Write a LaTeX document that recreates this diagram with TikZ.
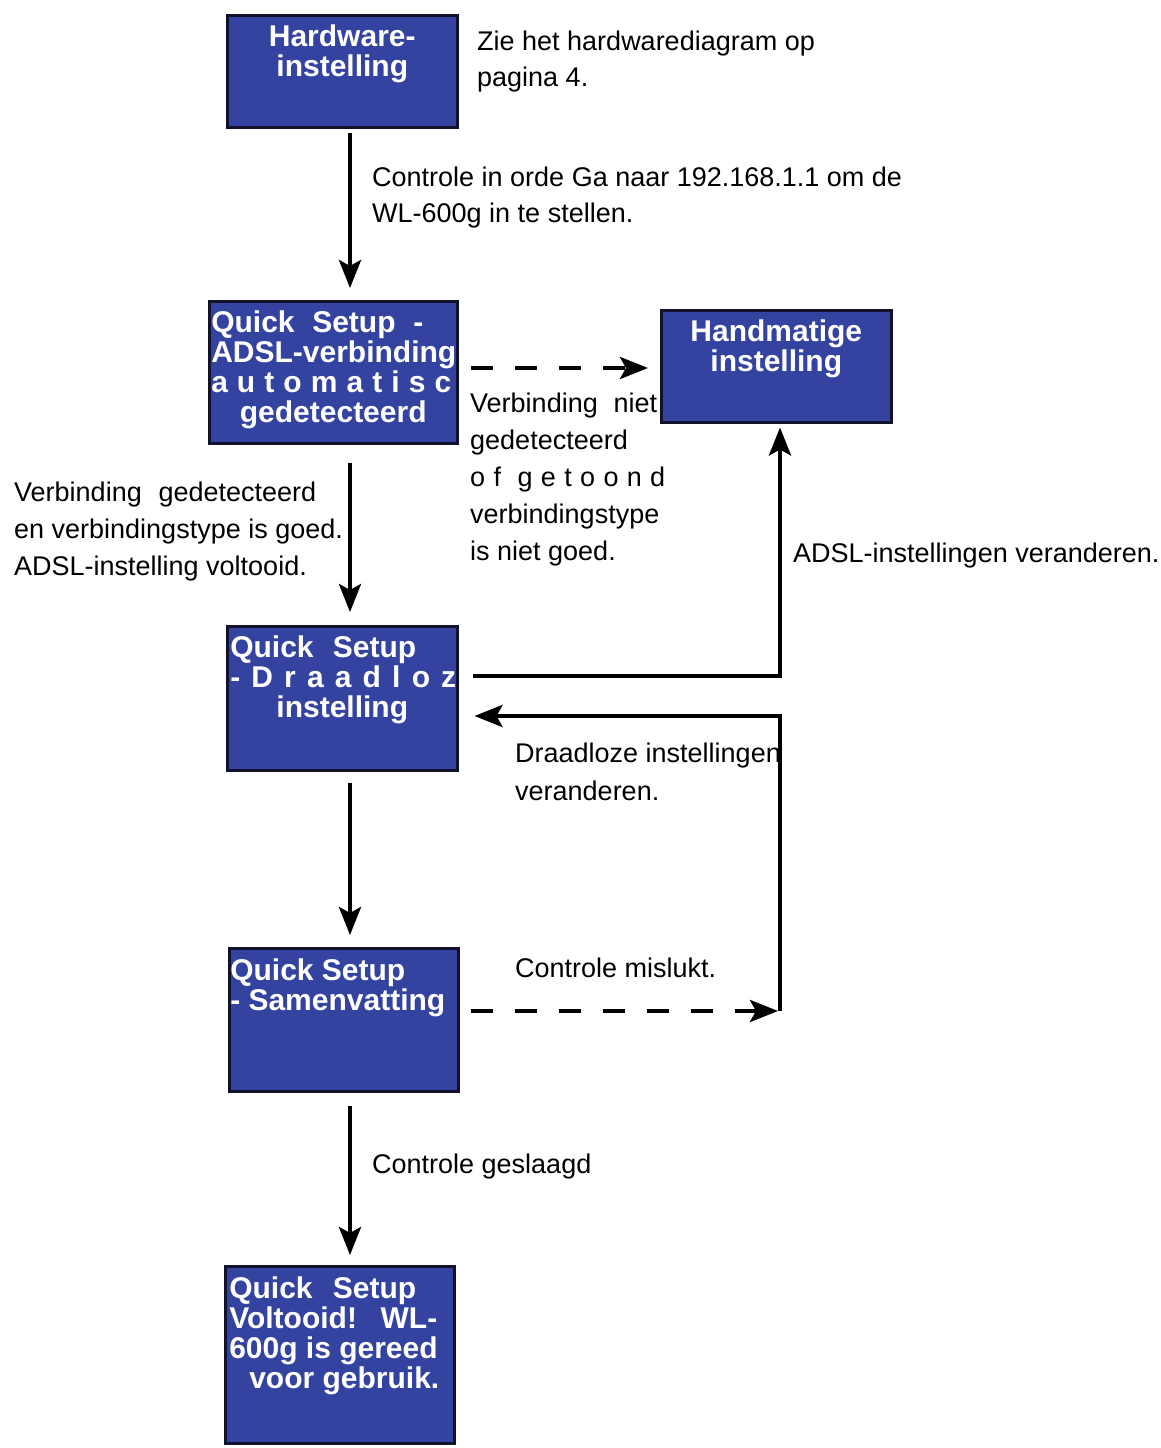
\documentclass[tikz,border=0pt]{standalone}
\usepackage{fontspec}
\setmainfont{Liberation Sans}
\usetikzlibrary{arrows.meta}
\definecolor{SetupBlue}{RGB}{52,67,160}
\definecolor{SetupEdge}{RGB}{18,18,45}

\newcommand{\vaktekst}[3]{\parbox[t][#2][t]{#1}{\vspace*{10pt}\centering #3}}
\newcommand{\links}[1]{\makebox[\linewidth][l]{#1}}
\newcommand{\regels}[1]{\parbox[t]{560pt}{#1}}

\begin{document}
\begin{tikzpicture}[x=1pt, y=-1pt,
  vak/.style={draw=SetupEdge, line width=2.5pt, fill=SetupBlue, text=white, inner sep=0pt, anchor=north west, font=\bfseries\fontsize{30}{30}\selectfont},
  uitleg/.style={inner sep=0pt, anchor=base west, font=\fontsize{27}{37}\selectfont},
  pijl/.style={-{Stealth[length=28pt, width=22pt, inset=6pt]}, line width=4pt},
  streep/.style={pijl, dash pattern=on 22pt off 22pt}]
\useasboundingbox (0,0) rectangle (1160,1448);
\coordinate (midden) at (350,0);
\coordinate (rechts) at (780,0);
\coordinate (rij1) at (0,368);
\coordinate (rij2) at (0,676);
\coordinate (rij3) at (0,716);
\coordinate (hoek) at (780,1011);

\node[vak] (hw) at (226,14) {\vaktekst{230pt}{112pt}{Hardware-\\ instelling}};
\node[vak] (adsl) at (208,300) {\vaktekst{248pt}{142pt}{\links{\hspace*{2pt}\makebox[212pt][s]{Quick\hfill Setup\hfill -}}\\ \links{\hspace*{2pt}ADSL-verbinding}\\ \links{\hspace*{2pt}\makebox[240pt][s]{a\hfill u\hfill t\hfill o\hfill m\hfill a\hfill t\hfill i\hfill s\hfill c}}\\ gedetecteerd}};
\node[vak] (handm) at (660,309) {\vaktekst{230pt}{112pt}{Handmatige\\ instelling}};
\node[vak] (draad) at (226,625) {\vaktekst{230pt}{144pt}{\links{\hspace*{3pt}\makebox[186pt][s]{Quick\hfill Setup}}\\ \links{\hspace*{3pt}\makebox[226pt][s]{-\hfill D\hfill r\hfill a\hfill a\hfill d\hfill l\hfill o\hfill z}}\\ instelling}};
\node[vak] (samen) at (228,947) {\vaktekst{229pt}{143pt}{\links{\hspace*{1pt}Quick Setup}\\ \links{\hspace*{1pt}- Samenvatting}}};
\node[vak] (klaar) at (224,1265) {\vaktekst{229pt}{177pt}{\links{\hspace*{4pt}\makebox[187pt][s]{Quick\hfill Setup}}\\ \links{\hspace*{4pt}\makebox[208pt][s]{Voltooid!\hfill WL-}}\\ \links{\hspace*{4pt}600g is gereed}\\ \links{\hspace*{24pt}voor gebruik.}}};

\node[uitleg] (zie) at (477,50) {\regels{\fontsize{27}{36}\selectfont Zie het hardwarediagram op\\ pagina 4.}};
\node[uitleg] (orde) at (372,186) {\regels{\fontsize{27}{36}\selectfont Controle in orde Ga naar 192.168.1.1 om de\\ WL-600g in te stellen.}};
\node[uitleg] (nietgoed) at (470,412) {\regels{\makebox[187pt][s]{Verbinding\hfill niet}\\ gedetecteerd\\ \makebox[195pt][s]{o\hfill f\hfill\hfill g\hfill e\hfill t\hfill o\hfill o\hfill n\hfill d}\\ verbindingstype\\ is niet goed.}};
\node[uitleg] (goed) at (14,501) {\regels{\makebox[302pt][s]{Verbinding\hfill gedetecteerd}\\ en verbindingstype is goed.\\ ADSL-instelling voltooid.}};
\node[uitleg] (adslwijz) at (793,562) {ADSL-instellingen veranderen.};
\node[uitleg] (draadwijz) at (515,762) {\regels{\fontsize{27}{38}\selectfont Draadloze instellingen\\ veranderen.}};
\node[uitleg] (mislukt) at (515,977) {Controle mislukt.};
\node[uitleg] (geslaagd) at (372,1173) {Controle geslaagd};

\draw[pijl, shorten <=4pt, shorten >=12pt] (hw.south -| midden) -- (adsl.north -| midden);
\draw[pijl, shorten <=18pt, shorten >=13pt] (adsl.south -| midden) -- (draad.north -| midden);
\draw[pijl, shorten <=11pt, shorten >=12pt] (draad.south -| midden) -- (samen.north -| midden);
\draw[pijl, shorten <=13pt, shorten >=10pt] (samen.south -| midden) -- (klaar.north -| midden);
\draw[streep, shorten <=12pt, shorten >=12pt] (adsl.east |- rij1) -- (handm.west |- rij1);
\draw[pijl, shorten <=14pt, shorten >=4pt] (draad.east |- rij2) -- (rij2 -| rechts) -- (handm.south -| rechts);
\draw[streep, shorten <=11pt, shorten >=2pt] (samen.east |- hoek) -- (hoek);
\draw[pijl, shorten >=16pt] (hoek) -- (hoek |- rij3) -- (draad.east |- rij3);
\end{tikzpicture}
\end{document}
